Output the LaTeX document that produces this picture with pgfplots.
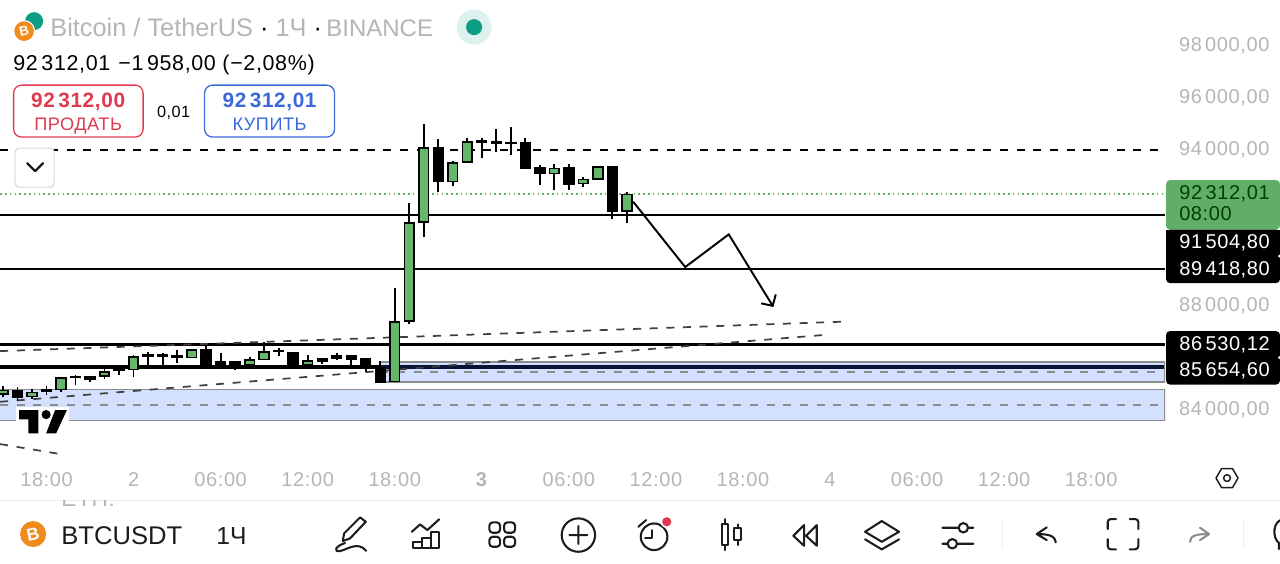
\documentclass[border=0pt]{standalone}
\usepackage{fontspec}
\setmainfont[LetterSpace=3]{Liberation Sans}
\newfontfamily\plainf{Liberation Sans}
\usepackage{pgfplots}
\pgfplotsset{compat=1.18}
\definecolor{upg}{HTML}{66B76C}
\definecolor{gtxt}{HTML}{B4B5B9}
\definecolor{redb}{HTML}{E0394F}
\definecolor{blueb}{HTML}{3A68D8}
\definecolor{orng}{HTML}{F08C1E}
\definecolor{teal2}{HTML}{0D9D85}
\definecolor{band}{HTML}{2962FF}
\definecolor{icon}{HTML}{1B1C20}
% colour, x, low, body bottom, body top, high
\newcommand{\candle}[6]{%
  \pgfmathsetmacro\xl{#2-0.33}\pgfmathsetmacro\xr{#2+0.33}%
  \addplot[black,line width=1.35pt] coordinates {(#2,#3)(#2,#6)};
  \addplot[fill=#1,draw=black,line width=1.35pt] coordinates {(\xl,#4)(\xr,#4)(\xr,#5)(\xl,#5)} -- cycle;
}
\newcommand{\up}[5]{\candle{upg}{#1}{#2}{#3}{#4}{#5}}
\newcommand{\dn}[5]{\candle{black}{#1}{#2}{#3}{#4}{#5}}
\begin{document}
\begin{tikzpicture}
\begin{axis}[
  at={(0,0)},anchor=south west,
  scale only axis,width=873.75pt,height=348.75pt,
  xmin=-3.198,xmax=77.09,ymin=81884.6,ymax=99769.2,
  axis line style={draw=none},major tick length=0pt,
  xtick={0,6,12,18,24,30,36,42,48,54,60,66,72},
  xticklabels={18:00,2,06:00,12:00,18:00,\textbf{3},06:00,12:00,18:00,4,06:00,12:00,18:00},
  ytick={84000,88000,94000,96000,98000},
  yticklabel pos=right,
  scaled y ticks=false,
  /pgf/number format/fixed,
  /pgf/number format/fixed zerofill,
  /pgf/number format/precision=2,
  /pgf/number format/use comma,
  /pgf/number format/1000 sep={\,},
  /pgf/number format/assume math mode=true,
  ticklabel style={font=\fontsize{15}{17}\selectfont,text=gtxt},
  yticklabel style={xshift=7pt,yshift=0pt},
  xticklabel style={yshift=-2pt},
  clip=true,
]
% horizontal levels
\addplot[black,line width=1.1pt,dash pattern=on 6pt off 6.5pt] coordinates {(-3.198,94000)(77.09,94000)};
\addplot[upg,line width=1.1pt,dash pattern=on 1.2pt off 2.4pt] coordinates {(-3.198,92312.01)(77.09,92312.01)};
\addplot[black,line width=1.4pt] coordinates {(-3.198,91504.8)(77.09,91504.8)};
\addplot[black,line width=1.4pt] coordinates {(-3.198,89418.8)(77.09,89418.8)};
\addplot[black,line width=2.7pt] coordinates {(-3.198,86530.12)(77.09,86530.12)};
\addplot[black,line width=2.7pt] coordinates {(-3.198,85654.6)(77.09,85654.6)};
% bands
\addplot[fill=band,fill opacity=.2,draw=black!45,line width=1.1pt] coordinates {(23,85846)(77.09,85846)(77.09,85077)(23,85077)} -- cycle;
\addplot[fill=band,fill opacity=.2,draw=black!45,line width=1.1pt] coordinates {(-3.3,84788)(77.09,84788)(77.09,83596)(-3.3,83596)} -- cycle;
\addplot[black!45,line width=1pt,dash pattern=on 6pt off 6.5pt] coordinates {(23,85461)(77.09,85461)};
\addplot[black!45,line width=1pt,dash pattern=on 6pt off 6.5pt] coordinates {(-3.198,84192)(77.09,84192)};
% dashed trend lines
\addplot[black!75,line width=1.3pt,dash pattern=on 6pt off 6.5pt] coordinates {(-3.198,86269)(55.06,87404)};
\addplot[black!75,line width=1.3pt,dash pattern=on 6pt off 6.5pt] coordinates {(-3.198,84319)(53.48,86885)};
\addplot[black!75,line width=1.3pt,dash pattern=on 6pt off 6.5pt] coordinates {(-3.198,82692)(0.96,82308)};
% forecast path
\addplot[black,line width=1.45pt] coordinates {(40.44,92011)(44.02,89500)(47.02,90758)(50.05,88011)};
\addplot[black,line width=1.45pt] coordinates {(49.26,88104)(50.05,88011)(50.26,88450)};
% candles: x, low, body bottom, body top, high
\up{-3}{84487}{84615}{84756}{84923}
\dn{-2}{84359}{84513}{84731}{84897}
\up{-1}{84436}{84526}{84679}{84821}
\dn{0}{84564}{84718}{84769}{84910}
\up{1}{84705}{84795}{85244}{85282}
\dn{2}{84962}{85256}{85282}{85346}
\dn{3}{85090}{85205}{85295}{85295}
\up{4}{85192}{85321}{85462}{85577}
\dn{5}{85359}{85539}{85564}{85641}
\up{6}{85282}{85564}{86038}{86128}
\dn{7}{85667}{86090}{86115}{86231}
\dn{8}{85667}{86090}{86115}{86192}
\dn{9}{85821}{86051}{86077}{86295}
\up{10}{86000}{86026}{86321}{86359}
\dn{11}{85641}{85744}{86333}{86500}
\dn{12}{85744}{85756}{85846}{86205}
\dn{13}{85526}{85731}{85846}{85885}
\up{14}{85692}{85744}{85923}{86026}
\up{15}{85923}{85949}{86244}{86628}
\dn{16}{86077}{86256}{86282}{86372}
\dn{17}{85692}{85744}{86218}{86244}
\up{18}{85692}{85744}{85885}{86103}
\dn{19}{85782}{85885}{85987}{85987}
\dn{20}{85923}{86000}{86103}{86205}
\dn{21}{85744}{85974}{86090}{86090}
\dn{22}{85449}{85628}{85962}{85962}
\dn{23}{85077}{85090}{85641}{85897}
\up{24}{85090}{85103}{87397}{88679}
\up{25}{87307}{87435}{91192}{91948}
\up{26}{90653}{91230}{94089}{95000}
\dn{27}{92371}{92794}{94089}{94423}
\up{28}{92615}{92794}{93500}{93576}
\up{29}{93525}{93538}{94307}{94448}
\dn{30}{93692}{94320}{94371}{94448}
\dn{31}{93935}{94282}{94333}{94794}
\dn{32}{93820}{94256}{94294}{94897}
\dn{33}{93307}{93307}{94269}{94448}
\dn{34}{92666}{93102}{93307}{93410}
\up{35}{92461}{93102}{93294}{93448}
\dn{36}{92461}{92705}{93307}{93448}
\up{37}{92589}{92717}{92871}{92961}
\up{38}{92846}{92884}{93346}{93384}
\dn{39}{91359}{91666}{93346}{93397}
\up{40}{91205}{91666}{92294}{92371}
\end{axis}
% interface furniture, in pixels of the reference
\begin{scope}[x=0.75pt,y=-0.75pt,shift={(0,348.75pt)}]
\path[use as bounding box] (0,0) rectangle (1280,563);
% TV logo
\fill[white] (16,407) rectangle (69,421);
\fill[black] (19,410) -- (38.3,410) -- (38.3,433.3) -- (28.3,433.3) -- (28.3,419.3) -- (19,419.3) -- cycle;
\fill[black] (46,414.5) circle (4.6);
\fill[black] (55,410) -- (66.7,410) -- (56,433.3) -- (46,433.3) -- cycle;
% header
\fill[teal2] (34,21) circle (9);
\fill[white] (24,31) circle (11);
\fill[orng] (24,31) circle (9.8);
\node[text=white,font=\plainf\fontsize{10}{10}\selectfont\bfseries,rotate=12] at (24,31) {B};
\node[anchor=base west,text=gtxt,inner sep=0,font=\plainf\fontsize{19}{20}\selectfont] at (50,36) {Bitcoin / TetherUS {\color{black}·} 1Ч {\color{black}·}};
\node[anchor=base west,text=gtxt,inner sep=0,font=\plainf\fontsize{18}{20}\selectfont] at (326,36) {BINANCE};
\fill[teal2!14] (474,27) circle (17.5);
\fill[teal2] (474,27) circle (8);
\node[anchor=base west,inner sep=0,font=\fontsize{16.1}{17}\selectfont] at (13,70) {92\,312,01\hspace{6pt}−1\,958,00 (−2,08\%)};
\draw[redb,line width=.95pt,rounded corners=6pt] (13.5,85) rectangle (143,137);
\draw[blueb,line width=.95pt,rounded corners=6pt] (204.5,85) rectangle (334.5,137);
\node[anchor=base,inner sep=0,text=redb,font=\fontsize{15.6}{17}\selectfont\bfseries] at (78,107.5) {92\,312,00};
\node[anchor=base,inner sep=0,text=redb,font=\fontsize{13.6}{16}\selectfont] at (78,130) {ПРОДАТЬ};
\node[anchor=base,inner sep=0,text=blueb,font=\fontsize{15.6}{17}\selectfont\bfseries] at (269.5,107.5) {92\,312,01};
\node[anchor=base,inner sep=0,text=blueb,font=\fontsize{13.6}{16}\selectfont] at (269.5,130) {КУПИТЬ};
\node[anchor=base,inner sep=0,font=\fontsize{12.2}{14}\selectfont] at (173.5,117) {0,01};
\draw[black!15,fill=white,line width=.9pt,rounded corners=3pt] (15,148) rectangle (54,187);
\draw[icon,line width=1.7pt,line cap=round,line join=round] (27,163) -- (35,171) -- (43,163);
% price boxes on the scale
\fill[upg!95!black,rounded corners=3pt] (1166,180) rectangle (1280,229.5);
\fill[black,rounded corners=3pt] (1166,229.5) rectangle (1280,283);
\fill[black,rounded corners=3pt] (1166,331) rectangle (1280,384.5);
\fill[black] (1166,229.5) rectangle (1280,240);
\fill[white] (1279.5,256) circle (1.5);
\fill[white] (1279.5,357.5) circle (1.5);
\node[anchor=base east,inner sep=0,text=green!25!black,font=\fontsize{15}{17}\selectfont] at (1270,199.3) {92\,312,01};
\node[anchor=base west,inner sep=0,text=green!25!black,font=\fontsize{15}{17}\selectfont] at (1179,220) {08:00};
\node[anchor=base east,inner sep=0,text=white,font=\fontsize{15}{17}\selectfont] at (1270,248.3) {91\,504,80};
\node[anchor=base east,inner sep=0,text=white,font=\fontsize{15}{17}\selectfont] at (1270,275) {89\,418,80};
\node[anchor=base east,inner sep=0,text=white,font=\fontsize{15}{17}\selectfont] at (1270,350.7) {86\,530,12};
\node[anchor=base east,inner sep=0,text=white,font=\fontsize{15}{17}\selectfont] at (1270,376.7) {85\,654,60};
% settings hexagon
\draw[icon,line width=1.1pt,line join=round] (1216,478) -- (1221.5,468.5) -- (1232.5,468.5) -- (1238,478) -- (1232.5,487.5) -- (1221.5,487.5) -- cycle;
\draw[icon,line width=1.1pt] (1227,478) circle (3.4);
% footer
\draw[black!8,line width=.8pt] (0,500) -- (1280,500);
\begin{scope}
\clip (55,500.5) rectangle (140,507);
\node[anchor=base west,inner sep=0,text=gtxt,font=\fontsize{17}{18}\selectfont] at (61,506) {ETH:};
\end{scope}
\fill[orng] (33,534) circle (13);
\node[text=white,font=\plainf\fontsize{13}{13}\selectfont\bfseries,rotate=12] at (33,534) {B};
\node[anchor=base west,inner sep=0,text=icon,font=\plainf\fontsize{19.2}{22}\selectfont] at (61,544.5) {BTCUSDT};
\node[anchor=base west,inner sep=0,text=icon,font=\plainf\fontsize{18.5}{22}\selectfont] at (216,544.5) {1Ч};
% toolbar icons
\begin{scope}[icon,line width=1.55pt,line join=round,line cap=round]
\draw (342.7,541) -- (344,533.3) -- (360,517.3) -- (365.7,521.7) -- (350,538.3) -- cycle;
\draw (345,543) .. controls (335,546) and (333,552) .. (340,551) .. controls (348,549) and (358,541) .. (366,550.7);
\draw (412.7,547.7) rectangle (421.7,541.7) (421.7,547.7) rectangle (430.7,538.3) (430.7,547.7) rectangle (439.3,531.7);
\draw (411.7,531.7) -- (420,524.3) -- (427.3,530) -- (439,519.3);
\draw[rounded corners=2.5pt] (489.3,522.3) rectangle (500,532.7) (504,522.3) rectangle (515,532.7) (489.3,536.7) rectangle (500,546.7) (504,536.7) rectangle (515,546.7);
\draw (578.3,535) circle (16.7) (569.3,535) -- (587.3,535) (578.3,526) -- (578.3,544);
\draw (654,536.7) circle (13.3);
\draw (638.3,526.7) -- (646,520);
\draw (651.7,530) -- (651.7,537.7) -- (645,537.7);
\fill[white] (666.7,521.7) circle (6.2);
\fill[redb] (666.7,521.7) circle (4.6);
\draw (721.7,524.3) rectangle (727.7,545) (724.7,519) -- (724.7,524.3) (724.7,545) -- (724.7,550);
\draw (734.3,528.3) rectangle (740.7,540) (737.5,524.3) -- (737.5,528.3) (737.5,540) -- (737.5,545);
\draw (804,525) -- (793.3,535.7) -- (804,545.7) -- cycle (816.7,525) -- (806,535.7) -- (816.7,545.7) -- cycle;
\draw (865,531.7) -- (881.7,521) -- (899,531.7) -- (881.7,541.7) -- cycle;
\draw (865,539.3) -- (881.7,549.3) -- (899,539.3);
\draw (942.3,527.7) -- (958.6,527.7) (968,527.7) -- (973.3,527.7) (963.3,527.7) circle (4.7);
\draw (942.3,543.7) -- (947.6,543.7) (957,543.7) -- (973.3,543.7) (952.3,543.7) circle (4.7);
\draw (1046.7,527.3) -- (1036.7,534) -- (1046.7,540) (1037,534) .. controls (1047,534) and (1055,535) .. (1055.7,542.3);
\draw (1107.7,529) -- (1107.7,522) .. controls (1107.7,520) and (1109,519) .. (1111,519) -- (1116,519);
\draw (1129.7,519) -- (1135,519) .. controls (1137,519) and (1138.3,520) .. (1138.3,522) -- (1138.3,529);
\draw (1107.7,539) -- (1107.7,546) .. controls (1107.7,548) and (1109,549.3) .. (1111,549.3) -- (1116,549.3);
\draw (1129.7,549.3) -- (1135,549.3) .. controls (1137,549.3) and (1138.3,548) .. (1138.3,546) -- (1138.3,539);
\draw[black!45] (1200,527.7) -- (1209,534) -- (1200,540) (1208,534) .. controls (1198,534) and (1190,535) .. (1190,541.7);
\draw (1285,519) .. controls (1272,519) and (1272,538) .. (1279,543) -- (1279,549);
\end{scope}
\draw[black!7,line width=.7pt] (1002.3,520) -- (1002.3,548) (1243.3,520) -- (1243.3,548);
\end{scope}
\end{tikzpicture}
\end{document}
